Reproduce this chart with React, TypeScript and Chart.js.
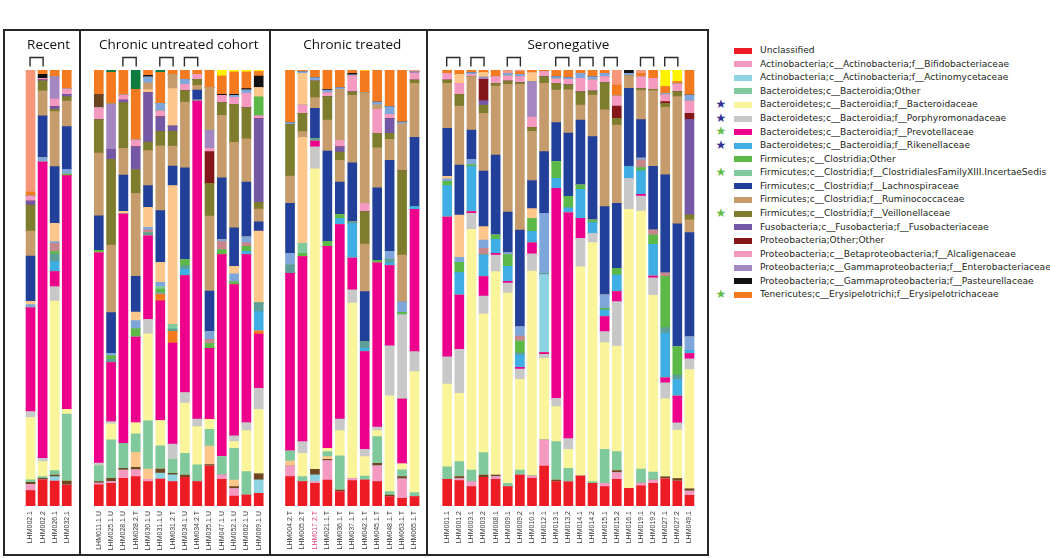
import React, { useEffect, useRef } from "react";
import { Chart, registerables } from "chart.js";

Chart.register(...registerables);

// ---------------- categories ----------------
const PANEL_TITLES = ["Recent", "Chronic untreated cohort", "Chronic treated", "Seronegative"];
const RECENT_SAMPLES = ["LHM002.1", "LHM002.2", "LHM026.1", "LHM032.1"];
const UNTREATED_SAMPLES = ["LHM011.1.U", "LHM025.1.U", "LHM028.1.U", "LHM028.2.T", "LHM030.1.U", "LHM031.1.U", "LHM031.2.T", "LHM034.1.U", "LHM034.2.T", "LHM035.1.U", "LHM047.1.U", "LHM052.1.U", "LHM062.1.U", "LHM069.1.U"];
const TREATED_SAMPLES = ["LHM004.2.T", "LHM005.2.T", "LHM017.2.T", "LHM021.1.T", "LHM036.1.T", "LHM037.1.T", "LHM042.1.T", "LHM045.1.T", "LHM048.1.T", "LHM063.1.T", "LHM065.1.T"];
const SERONEG_SAMPLES = ["LHM001.1", "LHM001.2", "LHM003.1", "LHM003.2", "LHM008.1", "LHM009.1", "LHM009.2", "LHM010.1", "LHM012.1", "LHM013.1", "LHM013.2", "LHM014.1", "LHM014.2", "LHM015.1", "LHM015.2", "LHM016.1", "LHM019.1", "LHM019.2", "LHM027.1", "LHM027.2", "LHM049.1"];
const PANEL_SAMPLES = [RECENT_SAMPLES, UNTREATED_SAMPLES, TREATED_SAMPLES, SERONEG_SAMPLES];
const HIGHLIGHT_SAMPLE = "LHM017.2.T";
const PAIRED_SAMPLES: string[][][] = [
  [["LHM002.1", "LHM002.2"]],
  [["LHM028.1.U", "LHM028.2.T"], ["LHM031.1.U", "LHM031.2.T"], ["LHM034.1.U", "LHM034.2.T"]],
  [],
  [["LHM001.1", "LHM001.2"], ["LHM003.1", "LHM003.2"], ["LHM009.1", "LHM009.2"], ["LHM013.1", "LHM013.2"], ["LHM014.1", "LHM014.2"], ["LHM015.1", "LHM015.2"], ["LHM019.1", "LHM019.2"], ["LHM027.1", "LHM027.2"]],
];

// ---------------- series values (relative abundance, read per sample; order: recent | untreated | treated | seronegative) ----------------
const U = [
  15.3, 26, 25, 21,
  21, 22.7, 27.7, 29.3, 24.3, 26.7, 24.3, 28.7, 24.3, 40, 26.7, 10, 11, 12.7,
  29.3, 24.3, 22.7, 26, 14.3, 25.3, 26, 24.3, 9.3, 7.7, 9.3,
  26.7, 25.3, 19.3, 28.7, 26.7, 19.3, 31, 27.7, 40, 24.3, 24.3, 30, 22.7, 19.3, 26.7, 17.7, 20, 22.7, 27.3, 25, 10.7,
];
const BIF = [
  6.4, 0, 0, 0,
  1.7, 1.7, 8.3, 6.7, 2.4, 0, 0, 0, 0, 0, 4.3, 7.3, 0, 0,
  10.7, 0, 1.7, 19.3, 0, 2.4, 0, 15.7, 0, 19.3, 0,
  0, 2, 5, 0, 2.6, 0, 0, 2.3, 26, 0, 0, 0, 0, 3.4, 6.6, 0, 2.7, 3.3, 0, 0, 4.3,
];
const ACT = [
  0, 0, 4.3, 0,
  0, 0, 0, 0, 0, 6, 6.7, 0, 0, 0, 0, 0, 0, 13.3,
  0, 0, 6.6, 0, 0, 0, 0, 0, 0, 0, 0,
  0, 0, 0, 0, 0, 0, 0, 0, 0, 0, 0, 0, 0, 0, 0, 0, 0, 0, 0, 0, 0,
];
const BRN = [
  2, 1.5, 1.7, 4,
  1.7, 3.4, 1.7, 2.6, 0, 4, 1.7, 2.3, 0, 1.3, 0, 2, 0, 6,
  0, 0, 5.7, 1.4, 1.7, 0, 0, 2.7, 1.7, 2.3, 0,
  0, 2, 0, 2.3, 1.7, 0, 0, 0, 0, 1.7, 0, 0, 0, 0, 2, 0, 0, 0, 2, 2.4, 2.3,
];
const PCH_LO = [
  0, 0, 0, 0,
  0, 0, 0, 15, 10, 0, 0, 0, 0, 18.7, 0, 6.7, 0, 0,
  5, 0, 0, 2.6, 0, 0, 0, 0, 0, 0, 0,
  0, 0, 0, 0, 0, 0, 0, 0, 0, 0, 0, 0, 0, 0, 0, 0, 0, 0, 0, 0, 0,
];
const BOT = [
  2.3, 1.8, 4.3, 67,
  15.7, 38.3, 25, 18.4, 48.3, 23.3, 14, 21.7, 16.7, 16.7, 18.3, 31.7, 23.3, 0,
  10, 5, 0, 5, 34, 0, 4, 26.6, 3.3, 6.7, 4,
  12.6, 15, 11.7, 22.3, 0, 3.4, 5, 0, 0, 38.3, 13.4, 0, 1.7, 34, 19, 0, 14, 8, 0, 0, 0,
];
const BAC = [
  62.3, 15, 169.7, 4.7,
  0, 16, 0, 11, 86.7, 25, 0, 50, 38.3, 10, 0, 6.6, 41, 64,
  0, 23.4, 300, 3.4, 25.3, 175, 19.3, 6, 95.7, 6, 121,
  82.7, 68.4, 240.7, 138.7, 203.3, 190, 90.7, 206, 81.7, 35, 19, 209.3, 239, 106.6, 105.7, 279, 256.6, 177.3, 78, 48.6, 119.3,
];
const POR = [
  6, 3.3, 14.3, 0,
  2.7, 2.3, 0, 0, 14.3, 0, 15, 10.6, 7.4, 0, 0, 5.7, 8, 21,
  0, 11.6, 22, 0, 11.4, 13.3, 7.4, 3.4, 50, 0, 20,
  27.3, 44, 16, 18, 16.7, 10, 10.3, 17.3, 4, 8.4, 11, 28.4, 9.4, 11, 44.3, 31, 15, 17.7, 16, 7.4, 10.7,
];
const PRE = [
  103.4, 295.6, 15, 233.6,
  209, 59, 229.3, 85.6, 83.3, 119.3, 101, 116.7, 317.6, 71, 201.7, 151, 167.7, 54,
  177.7, 185, 5.6, 201.6, 194.3, 31.7, 97.6, 164, 80, 64.7, 142.4,
  140, 54.3, 1.7, 19.3, 1.7, 1.7, 1.7, 11, 1.7, 210, 226.6, 20, 0, 15, 10, 0, 1.7, 1.7, 5, 26.6, 5.3,
];
const ERY_LO = [
  0, 0, 0, 0,
  0, 0, 0, 0, 0, 6.7, 11.6, 0, 0, 0, 0, 0, 0, 3.3,
  0, 0, 0, 0, 0, 0, 0, 0, 0, 0, 0,
  0, 0, 0, 0, 0, 0, 0, 0, 0, 0, 0, 0, 0, 0, 0, 0, 0, 0, 0, 0, 0,
];
const ACT_HI = [
  0, 0, 0, 0,
  0, 0, 0, 0, 0, 0, 0, 0, 0, 0, 0, 0, 0, 0,
  0, 0, 0, 0, 0, 0, 0, 0, 0, 0, 0,
  0, 0, 0, 0, 0, 0, 0, 0, 77.7, 0, 0, 0, 0, 0, 0, 0, 0, 0, 0, 0, 0,
];
const POR_HI = [
  0, 0, 0, 0,
  0, 0, 0, 0, 0, 0, 0, 0, 0, 0, 0, 0, 0, 0,
  0, 0, 0, 0, 0, 0, 0, 0, 0, 84, 0,
  0, 0, 0, 0, 0, 0, 0, 0, 0, 0, 0, 0, 0, 0, 0, 0, 0, 0, 0, 0, 0,
];
const RIK = [
  0, 0, 10, 0,
  0, 0, 0, 0, 0, 0, 0, 6.7, 0, 0, 0, 0, 3.3, 19,
  0, 0, 0, 0, 6, 34.3, 3.4, 0, 2.7, 0, 2.6,
  31.7, 22.3, 45, 21.7, 14, 15, 12.3, 11.7, 0, 10, 5, 29, 10.6, 6.7, 16.7, 11.6, 23.3, 31.7, 45, 16.7, 3.3,
];
const TEAL = [
  0, 0, 7.7, 0,
  0, 3.4, 0, 0, 3, 1.7, 2.4, 3.3, 0, 0, 0, 0, 0, 8.7,
  8.3, 0, 2.4, 0, 0, 1.6, 6.6, 0, 3.3, 0, 0,
  0, 0, 0, 0, 0, 0, 2.3, 0, 1.7, 0, 0, 0, 0, 0, 0, 0, 0, 0, 5.4, 4.4, 0,
];
const COT = [
  0, 0, 2.3, 1.6,
  2.6, 3.3, 0, 8.3, 0, 3.3, 0, 6.1, 0, 4.7, 5, 2.7, 5, 0,
  0, 3.4, 0, 5, 4, 0, 0, 2.6, 0, 2.3, 0,
  4.3, 10.4, 1.7, 0, 4.3, 11.7, 11.7, 12.7, 0, 16.6, 11.7, 4.3, 2.7, 1.7, 6.7, 0, 3.3, 9.3, 51.4, 28.3, 0,
];
const XIII = [
  0, 0, 0, 0,
  0, 0, 0, 0, 0, 2.7, 4.7, 0, 0, 0, 0, 0, 0, 0,
  0, 10, 0, 0, 0, 0, 0, 0, 0, 0, 0,
  0, 0, 0, 0, 0, 0, 0, 0, 0, 0, 0, 0, 0, 0, 0, 0, 0, 0, 0, 0, 0,
];
const SAL2 = [
  0, 0, 8.4, 0,
  0, 0, 0, 0, 3, 0, 0, 0, 0, 4.3, 8.3, 0, 3.4, 0,
  0, 0, 0, 0, 0, 0, 0, 0, 0, 0, 0,
  0, 0, 0, 6.7, 0, 0, 5, 0, 0, 0, 0, 0, 0, 0, 0, 0, 7.7, 5, 3.3, 0, 0,
];
const STL = [
  3.3, 4.3, 1.6, 4.8,
  0, 2.7, 0, 8.3, 2.4, 4, 0, 0, 1, 7.6, 1.7, 8, 6, 0,
  11.7, 0, 0, 0, 0, 0, 0, 0, 8.3, 10.3, 0,
  2.3, 5, 5.6, 8.3, 0, 1.7, 9.3, 0, 60, 0, 0, 0, 0, 13.4, 0, 0, 1.7, 0, 0, 0, 13.4,
];
const PCH = [
  3.3, 0, 18.4, 0,
  0, 0, 2.7, 8.4, 20, 20, 138.6, 0, 0, 0, 0, 7.6, 0, 71.3,
  0, 106, 0, 0, 0, 0, 0, 0, 0, 0, 0,
  2.7, 42.3, 0, 13.3, 0, 0, 0, 10, 0, 0, 0, 0, 0, 0, 0, 0, 0, 0, 0, 0, 0,
];
const LAC = [
  45, 41.7, 56.6, 42.6,
  34.4, 40.6, 36.3, 35.7, 21.6, 51.6, 19.3, 91.7, 10, 40.7, 61.7, 38.4, 54.6, 9.3,
  50, 0, 30.3, 90, 32.3, 59.3, 50, 72.4, 90.7, 0, 69.4,
  48, 50, 29.3, 55.7, 80, 40.6, 96.7, 28.3, 61.6, 39, 63.3, 65, 83.3, 88.3, 65, 78.4, 38.3, 64, 98.3, 123.3, 104.6,
];
const RUM = [
  25, 25, 55, 25.7,
  62.3, 67.7, 26.7, 82.7, 35, 64.4, 20, 65.6, 4.7, 75, 62.3, 85.3, 43.4, 12.7,
  27.3, 5.7, 10.7, 31, 21.7, 67.3, 47.7, 40, 21, 46.7, 54,
  45, 59, 53.3, 57.7, 69, 127.7, 145.7, 49.3, 68.4, 32.7, 43.4, 15, 41.7, 96.7, 78.3, 12.6, 29, 76, 67.7, 127.3, 12.7,
];
const VEI = [
  26, 10, 2.4, 4.3,
  33.3, 85.7, 45.6, 24, 8.4, 14.6, 15, 11.4, 6, 32.7, 12.7, 38, 31, 6.7,
  51.7, 18.3, 16.6, 23.4, 8.3, 3.4, 32.3, 14.3, 6, 84.3, 3.3,
  3.4, 11.7, 0, 8.3, 2.7, 3.3, 1.7, 4, 6.6, 6.7, 5, 13.3, 4, 27.3, 6.7, 0, 2, 1.4, 4, 5, 5,
];
const FUS = [
  4, 1, 2.7, 2.4,
  0, 10, 2.7, 22.6, 49.3, 14.4, 5, 0, 0, 0, 0, 0, 0, 83.3,
  0, 0, 0, 0, 5.4, 0, 0, 0, 14.7, 0, 0,
  0, 0, 0, 4.3, 0, 0, 0, 0, 0, 0, 0, 0, 0, 0, 0, 0, 0, 0, 0, 0, 95.7,
];
const POT = [
  0, 0, 0, 0,
  0, 0, 0, 0, 0, 0, 0, 0, 0, 31.6, 0, 0, 0, 0,
  0, 0, 0, 0, 0, 0, 0, 0, 0, 0, 0,
  0, 0, 0, 21.4, 0, 0, 0, 0, 0, 0, 0, 0, 0, 0, 12.3, 0, 0, 0, 1.7, 0, 6,
];
const ALC = [
  5, 1.5, 7.6, 5.3,
  11.7, 0, 5, 6.7, 0, 5.7, 0, 6.3, 5, 3.3, 7.3, 7, 14.3, 2.7,
  0, 8.3, 0, 4, 6.3, 16, 8.4, 24, 4.3, 0, 6.6,
  6.7, 11, 2.3, 0, 6.6, 5, 6, 10.4, 5, 4.3, 5.7, 13.4, 11, 6, 10, 0, 11.7, 11, 6.7, 7.7, 12.3,
];
const ENT = [
  0, 0, 22.3, 0,
  0, 45.3, 0, 0, 0, 0, 0, 0, 0, 18.4, 0, 0, 0, 0,
  0, 0, 0, 0, 0, 0, 0, 0, 0, 0, 1.7,
  0, 0, 0, 2.3, 0, 0, 0, 35.6, 0, 0, 0, 0, 0, 0, 0, 0, 0, 0, 0, 0, 0,
];
const COT_HI = [
  0, 0, 0, 0,
  0, 0, 0, 0, 0, 0, 0, 0, 0, 0, 0, 0, 0, 19,
  0, 0, 0, 0, 0, 0, 0, 0, 0, 0, 0,
  0, 0, 0, 0, 0, 0, 0, 0, 0, 0, 0, 0, 0, 0, 0, 0, 0, 0, 0, 0, 0,
];
const PCH_HI = [
  0, 0, 0, 0,
  0, 0, 0, 0, 3, 0, 37.4, 0, 0, 0, 0, 0, 0, 9,
  0, 31.6, 0, 0, 0, 0, 0, 0, 0, 0, 0,
  0, 9, 0, 4.7, 0, 0, 0, 9, 0, 0, 0, 0, 0, 0, 0, 0, 0, 0, 0, 0, 0,
];
const RUM_HI = [
  0, 0, 0, 0,
  0, 0, 0, 0, 6.7, 0, 14.3, 0, 0, 42.7, 0, 0, 0, 0,
  0, 0, 0, 0, 51, 0, 110.6, 4.6, 0, 46.6, 0,
  0, 0, 0, 0, 0, 0, 0, 0, 0, 0, 0, 0, 0, 0, 0, 0, 0, 0, 0, 0, 0,
];
const STL_HI = [
  0, 0, 0, 0,
  0, 0, 0, 0, 6, 7.6, 0, 5, 0, 0, 0, 2, 3.4, 0,
  1.6, 1.7, 3.4, 2.6, 1.7, 1, 0, 2.7, 7.7, 1.7, 0,
  0, 0, 1.7, 0, 0, 2.7, 2.3, 0, 0, 2.3, 1.7, 5.1, 3.3, 3.3, 0, 2.4, 0, 0, 1.7, 0, 6,
];
const BRN_HI = [
  0, 0, 0, 0,
  13.3, 0, 0, 0, 0, 0, 0, 0, 0, 0, 0, 0, 0, 0,
  0, 0, 0, 0, 0, 0, 0, 0, 0, 0, 0,
  0, 0, 0, 0, 0, 0, 0, 0, 0, 0, 0, 0, 0, 0, 0, 0, 0, 0, 0, 0, 0,
];
const PAS = [
  0, 4, 0, 0,
  0, 0, 0, 0, 1.6, 0, 0, 0, 0, 0, 1, 1, 1.3, 11.6,
  0, 0, 0, 0.7, 0, 1.6, 0, 0, 0, 0, 0,
  0, 0, 0, 0, 0, 0, 0, 0, 0, 0, 0, 0, 0, 0, 0, 3.3, 0, 0, 0, 0, 0,
];
const ERY = [
  4, 4.3, 6.7, 19,
  24.4, 31.7, 25, 50.7, 5.3, 31, 4.3, 9.3, 4.3, 17.3, 18.3, 22.3, 16.6, 4.4,
  52.7, 1.7, 7.6, 19.3, 17.6, 3.3, 21.7, 32, 36.6, 52, 0,
  3.3, 4.3, 2.7, 2.3, 6.7, 0, 2.7, 2.7, 1.7, 6.7, 7.6, 3.3, 6.7, 3.3, 11, 0, 3.4, 8.3, 6.6, 2.3, 25,
];
const SAL = [
  121.7, 0, 0, 0,
  0, 0, 0, 0, 0, 0, 0, 0, 0, 0, 0, 0, 0, 0,
  0, 0, 0, 0, 0, 0, 0, 0, 0, 0, 1.7,
  0, 0, 0, 0, 0, 3.3, 1.7, 0, 0, 0, 0, 0, 0, 0, 15, 0, 3.3, 0, 0, 0, 0,
];
const YEL = [
  0, 0, 0, 0,
  0, 0, 0, 0, 0, 0, 0, 0, 0, 0, 6, 2, 2, 1.6,
  0, 0, 0, 0, 0, 0, 1, 0, 0, 0, 0,
  0, 0, 0, 0, 0, 0, 0, 0, 0, 0, 0, 0, 0, 0, 0, 0, 0, 0, 16.7, 11.7, 0,
];
const DGR = [
  0, 0, 0, 0,
  0, 2.3, 0, 19.3, 0, 2.3, 0, 0, 0, 0, 0, 0, 0, 0,
  0, 0, 0, 0, 0, 0, 0, 0, 0, 0, 0,
  0, 0, 0, 0, 0, 0, 0, 0, 0, 0, 0, 0, 0, 0, 0, 0, 0, 0, 0, 0, 0,
];

// ---------------- taxa (stack order bottom -> top) ----------------
type Taxon = { name: string; values: number[]; color: string; legend?: boolean; star?: string };
const STAR_BLUE = "#2E3192";
const STAR_GREEN = "#62BB46";
const TAXA: Taxon[] = [
  { name: "Unclassified", values: U, color: "#ED1C24", legend: true },
  { name: "Actinobacteria;c__Actinobacteria;f__Bifidobacteriaceae", values: BIF, color: "#F49AC1", legend: true },
  { name: "Actinobacteria;c__Actinobacteria;f__Actinomycetaceae", values: ACT, color: "#8DD3E2", legend: true },
  { name: "other taxon (brown)", values: BRN, color: "#6E4620" },
  { name: "other taxon (peach, low)", values: PCH_LO, color: "#FDC68B" },
  { name: "Bacteroidetes;c__Bacteroidia;Other", values: BOT, color: "#80C99C", legend: true },
  { name: "Bacteroidetes;c__Bacteroidia;f__Bacteroidaceae", values: BAC, color: "#FAF49B", legend: true, star: STAR_BLUE },
  { name: "Bacteroidetes;c__Bacteroidia;f__Porphyromonadaceae", values: POR, color: "#C8C8C8", legend: true, star: STAR_BLUE },
  { name: "Bacteroidetes;c__Bacteroidia;f__Prevotellaceae", values: PRE, color: "#EC008C", legend: true, star: STAR_GREEN },
  { name: "other taxon (orange, low)", values: ERY_LO, color: "#F47A20" },
  { name: "other taxon (cyan)", values: ACT_HI, color: "#8DD3E2" },
  { name: "other taxon (grey)", values: POR_HI, color: "#C8C8C8" },
  { name: "Bacteroidetes;c__Bacteroidia;f__Rikenellaceae", values: RIK, color: "#3EAEE4", legend: true, star: STAR_BLUE },
  { name: "other taxon (teal)", values: TEAL, color: "#5E9E98" },
  { name: "Firmicutes;c__Clostridia;Other", values: COT, color: "#5DB947", legend: true },
  { name: "Firmicutes;c__Clostridia;f__ClostridialesFamilyXIII.IncertaeSedis", values: XIII, color: "#80C99C", legend: true, star: STAR_GREEN },
  { name: "other taxon (mauve)", values: SAL2, color: "#C6868A" },
  { name: "other taxon (steel)", values: STL, color: "#7EA6DA" },
  { name: "other taxon (peach)", values: PCH, color: "#FDC68B" },
  { name: "Firmicutes;c__Clostridia;f__Lachnospiraceae", values: LAC, color: "#22409A", legend: true },
  { name: "Firmicutes;c__Clostridia;f__Ruminococcaceae", values: RUM, color: "#C69C6D", legend: true },
  { name: "Firmicutes;c__Clostridia;f__Veillonellaceae", values: VEI, color: "#7E7D2E", legend: true, star: STAR_GREEN },
  { name: "Fusobacteria;c__Fusobacteria;f__Fusobacteriaceae", values: FUS, color: "#7457A5", legend: true },
  { name: "Proteobacteria;Other;Other", values: POT, color: "#841619", legend: true },
  { name: "Proteobacteria;c__Betaproteobacteria;f__Alcaligenaceae", values: ALC, color: "#F49AC1", legend: true },
  { name: "Proteobacteria;c__Gammaproteobacteria;f__Enterobacteriaceae", values: ENT, color: "#A487C1", legend: true },
  { name: "other taxon (green)", values: COT_HI, color: "#5DB947" },
  { name: "other taxon (peach, high)", values: PCH_HI, color: "#FDC68B" },
  { name: "other taxon (tan)", values: RUM_HI, color: "#C69C6D" },
  { name: "other taxon (steel, high)", values: STL_HI, color: "#7EA6DA" },
  { name: "other taxon (dark brown)", values: BRN_HI, color: "#6B4520" },
  { name: "Proteobacteria;c__Gammaproteobacteria;f__Pasteurellaceae", values: PAS, color: "#111111", legend: true },
  { name: "Tenericutes;c__Erysipelotrichi;f__Erysipelotrichaceae", values: ERY, color: "#F47A20", legend: true, star: STAR_GREEN },
  { name: "other taxon (salmon)", values: SAL, color: "#F6977A" },
  { name: "other taxon (yellow)", values: YEL, color: "#FFF100" },
  { name: "other taxon (dark green)", values: DGR, color: "#0E7C3E" },
];

// ---------------- layout (pixels) ----------------
const PANEL_GEOM = [
  { x: 4, w: 76, padL: 20.5, padR: 7.2 },
  { x: 80, w: 190, padL: 12.65, padR: 5.15 },
  { x: 270, w: 157, padL: 13.8, padR: 6.25 },
  { x: 427, w: 281, padL: 14.15, padR: 12.5 },
];
const PANEL_TOP = 30;
const PANEL_H = 525;

const bracketPlugin = {
  id: "pairBrackets",
  afterDatasetsDraw(chart: any, _args: any, opts: any) {
    const pairs: number[][] = (opts && opts.pairs) || [];
    const xs = chart.scales.x;
    const top = chart.chartArea.top;
    const ctx = chart.ctx;
    ctx.save();
    ctx.strokeStyle = "#2b2b2b";
    ctx.lineWidth = 1.4;
    for (const [a, b] of pairs) {
      const x1 = xs.getPixelForValue(a) - 0.5;
      const x2 = xs.getPixelForValue(b) + 0.5;
      const yT = top - 12.5;
      const yB = top - 3.5;
      ctx.beginPath();
      ctx.moveTo(x1, yB);
      ctx.lineTo(x1, yT);
      ctx.lineTo(x2, yT);
      ctx.lineTo(x2, yB);
      ctx.stroke();
    }
    ctx.restore();
  },
};

function Panel({ index }: { index: number }) {
  const ref = useRef<HTMLCanvasElement>(null);
  const g = PANEL_GEOM[index];
  useEffect(() => {
    const canvas = ref.current;
    if (!canvas) return;
    const samples = PANEL_SAMPLES[index];
    let start = 0;
    for (let p = 0; p < index; p++) start += PANEL_SAMPLES[p].length;
    const idx = samples.map((_, i) => start + i);
    const totals = idx.map((i) => TAXA.reduce((s, t) => s + (t.values[i] || 0), 0));
    const datasets = TAXA.map((t) => ({
      label: t.name,
      data: idx.map((i, k) => ((t.values[i] || 0) / totals[k]) * 100),
      backgroundColor: t.color,
      borderWidth: 0,
      barThickness: 9,
      stack: "all",
    }));
    const pairs = PAIRED_SAMPLES[index].map(([a, b]) => [samples.indexOf(a), samples.indexOf(b)]);
    const chart = new Chart(canvas, {
      type: "bar",
      data: { labels: samples, datasets },
      options: {
        responsive: false,
        animation: false,
        devicePixelRatio: 1,
        layout: { padding: { left: g.padL, right: g.padR, top: 0, bottom: 0 } },
        plugins: {
          legend: { display: false },
          tooltip: { enabled: false },
          title: {
            display: true,
            text: PANEL_TITLES[index],
            color: "#111",
            font: { family: "'Open Sans', sans-serif", size: 13.5, weight: "normal" },
            padding: { top: 7.5, bottom: 16.3 },
          },
          pairBrackets: { pairs },
        } as any,
        scales: {
          x: {
            stacked: true,
            offset: true,
            grid: { display: false, drawTicks: false },
            border: { display: false },
            ticks: {
              autoSkip: false,
              minRotation: 90,
              maxRotation: 90,
              padding: 5,
              font: { family: "'Liberation Sans', Arial, sans-serif", size: 7 },
              color: (c: any) => (c.tick && c.tick.label === HIGHLIGHT_SAMPLE ? "#E0457B" : "#3a3a3a"),
            },
            afterFit: (s: any) => {
              s.height = 49;
              s.paddingLeft = 0;
              s.paddingRight = 0;
            },
          },
          y: { stacked: true, display: false, min: 0, max: 100 },
        },
      } as any,
      plugins: [bracketPlugin],
    });
    return () => chart.destroy();
  }, [index]);
  return (
    <canvas
      ref={ref}
      width={g.w}
      height={PANEL_H}
      style={{ position: "absolute", left: g.x, top: PANEL_TOP, width: g.w, height: PANEL_H }}
    />
  );
}

function Legend() {
  const items = TAXA.filter((t) => t.legend);
  return (
    <>
      {items.map((t, k) => {
        const y = 50.7 + k * 13.57;
        return (
          <React.Fragment key={t.name}>
            {t.star ? (
              <span
                style={{
                  position: "absolute",
                  left: 715.5,
                  top: y - 8,
                  fontSize: 12,
                  lineHeight: "15px",
                  color: t.star,
                  fontFamily: "'DejaVu Sans', sans-serif",
                }}
              >
                ★
              </span>
            ) : null}
            <div style={{ position: "absolute", left: 734, top: y - 3, width: 18, height: 6, background: t.color }} />
            <span
              style={{
                position: "absolute",
                left: 760,
                top: y - 6.5,
                fontSize: 9.1,
                lineHeight: "12px",
                color: "#231F20",
                fontFamily: "'DejaVu Sans', sans-serif",
                whiteSpace: "nowrap",
              }}
            >
              {t.name}
            </span>
          </React.Fragment>
        );
      })}
    </>
  );
}

export default function App() {
  const lineColor = "#262626";
  const vlines = [4, 80, 270, 427, 708];
  return (
    <div style={{ position: "absolute", left: 0, top: 0, width: 1050, height: 558, background: "#fff", overflow: "hidden" }}>
      {PANEL_TITLES.map((_, i) => (
        <Panel key={i} index={i} />
      ))}
      {vlines.map((x) => (
        <div key={x} style={{ position: "absolute", left: x - 0.8, top: 29.2, width: 1.6, height: 526.6, background: lineColor }} />
      ))}
      <div style={{ position: "absolute", left: 3.2, top: 29.2, width: 705.6, height: 1.6, background: lineColor }} />
      <div style={{ position: "absolute", left: 3.2, top: 554.2, width: 705.6, height: 1.6, background: lineColor }} />
      <Legend />
    </div>
  );
}
